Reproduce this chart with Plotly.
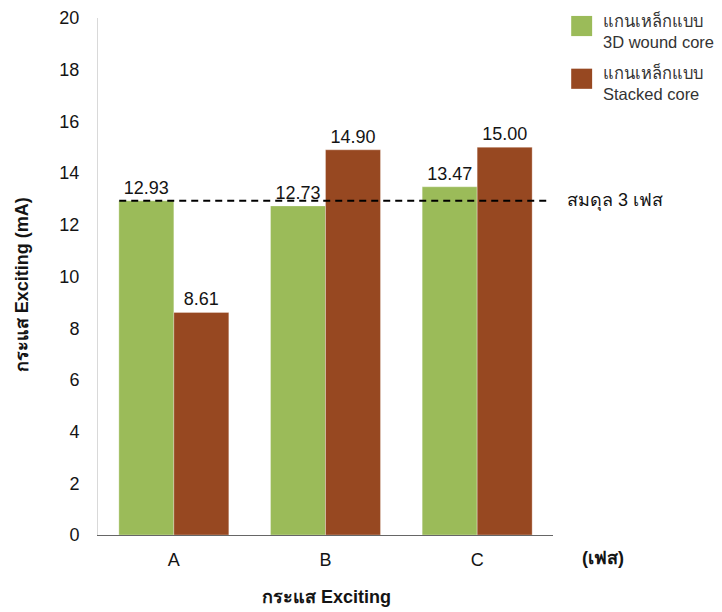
import plotly.graph_objects as go

categories = ["A", "B", "C"]
wound_core = [12.93, 12.73, 13.47]
stacked_core = [8.61, 14.90, 15.00]
balance_value = 12.93
series_names = ["แกนเหล็กแบบ<br>3D wound core", "แกนเหล็กแบบ<br>Stacked core"]
series_colors = ["#9BBB59", "#974821"]
y_ticks = [0, 2, 4, 6, 8, 10, 12, 14, 16, 18, 20]

font_main = "Liberation Sans, Arial, sans-serif"
txt = "#141414"

fig = go.Figure()
for vals, name, col in zip([wound_core, stacked_core], series_names, series_colors):
    fig.add_trace(go.Bar(
        x=categories, y=vals, name=name,
        marker=dict(color=col, line=dict(color="rgba(255,255,255,0.5)", width=0.6)),
        texttemplate="%{y:.2f}", textposition="outside", cliponaxis=False,
        textfont=dict(size=18, color=txt, family=font_main),
        showlegend=False,
    ))

# manual legend (larger swatches like the reference)
legend_offsets = [0.0, 0.102]
for name, col, dy in zip(series_names, series_colors, legend_offsets):
    fig.add_shape(type="rect", xref="paper", yref="paper",
                  x0=1.04, x1=1.086, y0=0.965 - dy, y1=1.004 - dy,
                  fillcolor=col, line=dict(color=col, width=0))
    fig.add_annotation(xref="paper", yref="paper", x=1.106, y=1.018 - dy,
                       text=name, showarrow=False, xanchor="left", yanchor="top",
                       align="left",
                       font=dict(size=16.5, color="#333333", family=font_main))

fig.add_shape(type="line", xref="x", yref="y", x0=-0.36, x1=2.48,
              y0=balance_value, y1=balance_value,
              line=dict(color="black", width=1.8, dash="7px,5px"))
fig.add_annotation(xref="paper", yref="y", x=1.026, y=balance_value,
                   text="สมดุล 3 เฟส", showarrow=False, xanchor="left",
                   font=dict(size=18, color=txt, family=font_main))
fig.add_annotation(xref="paper", yref="paper", x=1.059, y=-0.0445,
                   text="<b>(เฟส)</b>", showarrow=False, xanchor="left", yanchor="middle",
                   font=dict(size=18, color=txt, family=font_main))
fig.add_annotation(xref="paper", yref="paper", x=0.503, y=-0.12,
                   text="<b>กระแส Exciting</b>", showarrow=False,
                   xanchor="center", yanchor="middle",
                   font=dict(size=18, color=txt, family=font_main))
fig.add_annotation(xref="paper", yref="paper", x=-0.168, y=0.484,
                   text="<b>กระแส Exciting (mA)</b>", showarrow=False, textangle=-90,
                   xanchor="center", yanchor="middle",
                   font=dict(size=18, color=txt, family=font_main))

# page body has an 8px default margin, so the figure is 8px smaller
fig.update_layout(
    width=714, height=604,
    margin=dict(l=90, r=169, t=10, b=77, autoexpand=False),
    paper_bgcolor="white", plot_bgcolor="white",
    barmode="group", bargap=0.275, bargroupgap=0,
    font=dict(family=font_main, color=txt),
    showlegend=False,
    xaxis=dict(showline=True, linecolor="#666666", linewidth=1, automargin=False,
               tickfont=dict(size=18), ticks="", ticklabelstandoff=8),
    yaxis=dict(range=[0, 20], tickvals=y_ticks, showgrid=False, zeroline=False,
               showline=True, linecolor="#d9d9d9", linewidth=1, automargin=False,
               tickfont=dict(size=18), ticks="", ticklabelstandoff=14),
)

fig.write_html("out.html")
